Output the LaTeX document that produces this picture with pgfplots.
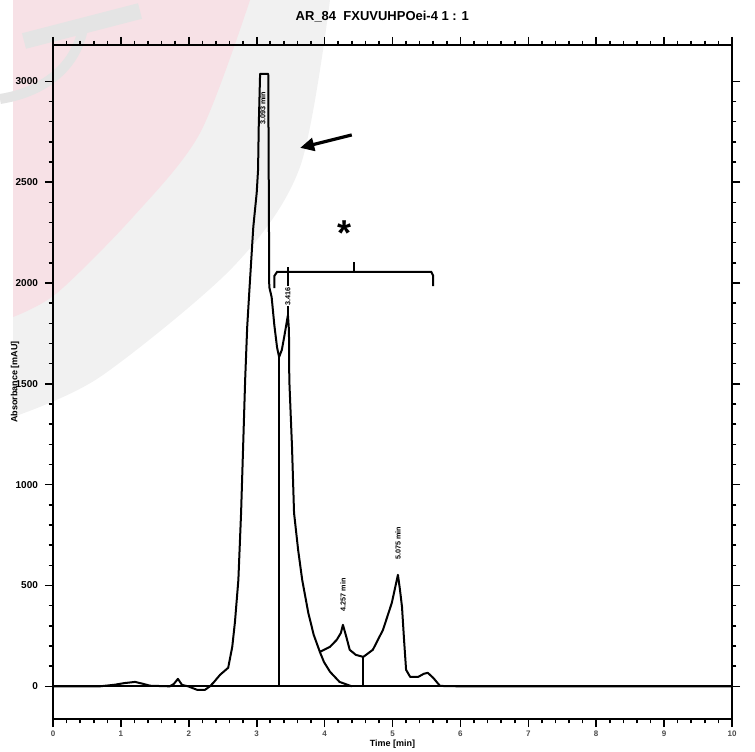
\documentclass[border=0pt]{standalone}
\usepackage{pgfplots}
\pgfplotsset{compat=1.18}
\usepackage{fontspec}
\setmainfont{Liberation Sans}
\usetikzlibrary{arrows.meta}
\definecolor{wmpink}{RGB}{247,225,230}
\definecolor{wmgrey}{RGB}{241,241,241}
\definecolor{wmdark}{RGB}{228,228,228}
\begin{document}
\begin{tikzpicture}
\path[use as bounding box] (0pt,0pt) rectangle (377.5pt,375.5pt);
\begin{scope}
\clip (0pt,0pt) rectangle (377.5pt,375.5pt);
\fill[wmgrey] (6.5pt,375.5pt) -- plot[smooth] coordinates {(165pt,375.5pt) (150pt,292pt) (116.5pt,242pt) (50pt,187pt) (6.5pt,167pt)} -- cycle;
\fill[wmpink] (6.5pt,375.5pt) -- plot[smooth] coordinates {(125pt,375.5pt) (100pt,309pt) (66.5pt,267pt) (28.5pt,229pt) (6.5pt,217pt)} -- cycle;
\draw[wmdark, line width=8pt] (12pt,355pt) -- (70pt,370pt);
\draw[wmdark, line width=5pt] (0pt,326pt) .. controls (25pt,330pt) and (40pt,345pt) .. (42pt,365pt);
\end{scope}
\begin{axis}[
  at={(26.5pt,16pt)}, anchor=south west,
  width=339.5pt, height=337pt, scale only axis,
  xmin=0, xmax=10, ymin=-162, ymax=3180,
  clip=false,
  axis line style={line width=1pt},
  tick align=outside,
  major tick length=4pt, minor tick length=2.2pt,
  every tick/.style={black, line width=0.8pt},
  xtick={0,1,...,10}, minor x tick num=4,
  ytick={0,500,...,3000}, minor y tick num=4,
  /pgf/number format/assume math mode=true,
  /pgf/number format/set thousands separator={},
  tick label style={font=\fontsize{5}{6}\selectfont\bfseries},
  xticklabel style={text=black!70, font=\fontsize{4}{5}\selectfont\bfseries, yshift=1.5pt},
  xlabel={Time [min]}, ylabel={Absorbance [mAU]},
  xlabel style={at={(axis description cs:0.5,-0.037)}, anchor=center, font=\fontsize{4.5}{5}\selectfont\bfseries},
  ylabel style={at={(axis description cs:-0.056,0.5)}, anchor=center, font=\fontsize{4.5}{5}\selectfont\bfseries},
  title={AR\_84 \ FXUVUHPOei-4 1 : 1},
  title style={at={(axis description cs:0.485,1.024)}, anchor=center, yshift=0pt, font=\fontsize{6.5}{7}\selectfont\bfseries},
]
% baseline
\addplot[black, line width=0.9pt] coordinates {(0,0) (10,0)};
% signal
\addplot[black, line width=1pt, line join=round] coordinates {
(0,0) (0.69,0) (0.91,8) (1.05,16) (1.21,22) (1.33,12) (1.43,3) (1.72,0)
(1.78,12) (1.84,37) (1.90,7) (1.99,0) (2.12,-17) (2.24,-17) (2.31,0)
(2.36,17) (2.46,57) (2.58,92) (2.64,196) (2.68,320) (2.73,528) (2.77,860)
(2.80,1187) (2.83,1520) (2.86,1782) (2.89,1951) (2.92,2115) (2.95,2278)
(3.00,2447) (3.02,2561) (3.03,2774) (3.05,3037) (3.17,3037) (3.185,1980)
(3.22,1930) (3.26,1790) (3.30,1680) (3.33,1633) (3.37,1668) (3.41,1742)
(3.46,1841) (3.475,1766) (3.48,1520) (3.52,1187) (3.55,860) (3.61,677)
(3.67,528) (3.76,364) (3.84,255) (3.93,171) (4.08,196) (4.18,231)
(4.24,265) (4.27,305) (4.32,245) (4.37,181) (4.46,156) (4.57,146)
(4.71,181) (4.86,280) (4.99,414) (5.08,553) (5.11,479) (5.14,394)
(5.17,231) (5.20,82) (5.26,47) (5.38,47) (5.46,62) (5.52,67) (5.60,42)
(5.70,2) (5.99,0) (10,0)
};
% tail of second peak
\addplot[black, line width=1pt] coordinates {
(3.93,171) (3.99,121) (4.08,72) (4.22,22) (4.40,0)
};
% drop lines
\addplot[black, line width=1pt] coordinates {(3.33,0) (3.33,1633)};
\addplot[black, line width=1pt] coordinates {(4.57,0) (4.57,146)};
% bracket
\draw[line width=1pt] (axis cs:3.26,1975) -- (axis cs:3.26,2035) -- (axis cs:3.30,2055) -- (axis cs:5.57,2055) -- (axis cs:5.60,2035) -- (axis cs:5.60,1985);
\draw[line width=1pt] (axis cs:4.43,2055) -- (axis cs:4.43,2105);
\draw[line width=0.8pt] (axis cs:3.46,1841) -- (axis cs:3.46,2080);
% arrow and asterisk
\draw[line width=1.6pt, -{Triangle[length=7pt, width=6.5pt]}] (axis cs:4.40,2734) -- (axis cs:3.64,2670);
\node[font=\fontsize{18}{18}\selectfont\bfseries] at (axis cs:4.30,2245) {*};
% peak labels
\node[rotate=90, font=\fontsize{3.6}{4}\selectfont\bfseries] at (axis cs:3.09,2865) {3.093 min};
\node[rotate=90, font=\fontsize{3.6}{4}\selectfont\bfseries, fill=white, inner sep=0.3pt] at (axis cs:3.46,1935) {3.416};
\node[rotate=90, font=\fontsize{3.6}{4}\selectfont\bfseries] at (axis cs:4.27,454) {4.257 min};
\node[rotate=90, font=\fontsize{3.6}{4}\selectfont\bfseries] at (axis cs:5.08,710) {5.075 min};
\end{axis}
\end{tikzpicture}
\end{document}
